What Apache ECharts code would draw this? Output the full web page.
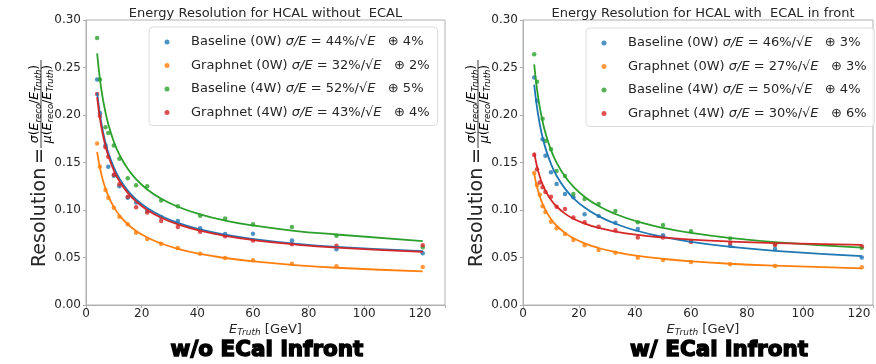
<!DOCTYPE html>
<html>
<head>
<meta charset="utf-8">
<script src="https://cdn.jsdelivr.net/npm/echarts@6/dist/echarts.min.js"></script>
<style>
  html, body { margin: 0; padding: 0; background: #fff; }
  #chart { width: 876px; height: 364px; }
</style>
</head>
<body>
<div id="chart"></div>
<script>
// beam energies [GeV]
const energies = [4, 5, 6, 7, 8, 10, 12, 15, 18, 22, 27, 33, 41, 50, 60, 74, 90, 121];

// measured resolution, HCAL without ECAL
const baseline0wNoEcal = [0.2375, 0.202, null, 0.168, 0.1456, 0.136, 0.125, 0.113, 0.108, 0.099, 0.0926, 0.0884, 0.0807, 0.0747, 0.075, 0.068, 0.0586, 0.0544];
const graphnet0wNoEcal = [0.170, 0.1456, null, 0.121, 0.113, 0.1025, 0.093, 0.085, 0.076, 0.0695, 0.0645, 0.060, 0.054, 0.0495, 0.047, 0.0435, 0.0407, 0.040];
const baseline4wNoEcal = [0.281, 0.2375, null, 0.187, 0.181, 0.168, 0.154, 0.1333, 0.126, 0.125, 0.110, 0.104, 0.094, 0.091, 0.085, 0.082, 0.073, 0.0607];
const graphnet4wNoEcal = [0.222, 0.199, null, 0.166, 0.156, 0.137, 0.127, 0.114, 0.103, 0.0975, 0.0884, 0.082, 0.077, 0.0723, 0.068, 0.064, 0.0625, 0.0628];

// measured resolution, HCAL with ECAL in front
const baseline0wEcal = [0.2396, 0.215, null, 0.1744, 0.157, 0.1397, 0.1274, 0.1168, 0.1133, 0.0954, 0.0937, 0.0866, 0.080, 0.0733, 0.0674, 0.0624, 0.059, 0.050];
const graphnet0wEcal = [0.139, 0.126, 0.116, 0.104, 0.098, 0.0877, 0.0807, 0.0747, 0.0684, 0.0628, 0.0579, 0.055, 0.0498, 0.0474, 0.0453, 0.0428, 0.041, 0.0397];
const baseline4wEcal = [0.264, 0.235, null, 0.196, 0.1726, 0.164, 0.141, 0.1358, 0.1168, 0.1116, 0.1063, 0.099, 0.087, 0.0842, 0.0776, 0.070, 0.0639, 0.0603];
const graphnet4wEcal = [0.158, 0.143, 0.129, 0.124, 0.119, 0.114, 0.1035, 0.101, 0.092, 0.087, 0.0824, 0.0786, 0.071, 0.071, 0.0663, 0.0653, 0.0632, 0.0618];

// fitted curves (same energies)
const fitBaseline0wNoEcal = [0.2236, 0.2008, 0.1840, 0.1710, 0.1606, 0.1448, 0.1332, 0.1204, 0.1112, 0.1020, 0.0937, 0.0864, 0.0795, 0.0740, 0.0695, 0.0649, 0.0612, 0.0566];
const fitGraphnet0wNoEcal = [0.1612, 0.1445, 0.1322, 0.1226, 0.1149, 0.1032, 0.0945, 0.0850, 0.0780, 0.0711, 0.0648, 0.0592, 0.0538, 0.0495, 0.0459, 0.0422, 0.0392, 0.0355];
const fitBaseline4wNoEcal = [0.2648, 0.2379, 0.2181, 0.2028, 0.1905, 0.1719, 0.1582, 0.1433, 0.1324, 0.1216, 0.1119, 0.1034, 0.0954, 0.0889, 0.0837, 0.0784, 0.0742, 0.0672];
const fitGraphnet4wNoEcal = [0.2187, 0.1964, 0.1800, 0.1674, 0.1572, 0.1417, 0.1304, 0.1180, 0.1090, 0.1000, 0.0919, 0.0849, 0.0782, 0.0728, 0.0684, 0.0640, 0.0604, 0.0559];

const fitBaseline0wEcal = [0.2319, 0.2079, 0.1902, 0.1764, 0.1654, 0.1485, 0.1361, 0.1225, 0.1125, 0.1026, 0.0935, 0.0855, 0.0779, 0.0716, 0.0665, 0.0613, 0.0570, 0.0515];
const fitGraphnet0wEcal = [0.1383, 0.1244, 0.1142, 0.1064, 0.1001, 0.0905, 0.0835, 0.0759, 0.0704, 0.0649, 0.0600, 0.0558, 0.0517, 0.0486, 0.0460, 0.0434, 0.0414, 0.0385];
const fitBaseline4wEcal = [0.2532, 0.2272, 0.2080, 0.1932, 0.1812, 0.1631, 0.1498, 0.1352, 0.1245, 0.1139, 0.1042, 0.0958, 0.0877, 0.0812, 0.0759, 0.0706, 0.0662, 0.0603];
const fitGraphnet4wEcal = [0.1605, 0.1458, 0.1351, 0.1269, 0.1204, 0.1107, 0.1037, 0.0962, 0.0908, 0.0857, 0.0811, 0.0773, 0.0738, 0.0711, 0.0689, 0.0668, 0.0652, 0.0632];

const labels = ['Baseline (0W)', 'Graphnet (0W)', 'Baseline (4W)', 'Graphnet (4W)'];
const stochNoEcal = ['44%', '32%', '52%', '43%'];
const constNoEcal = ['4%', '2%', '5%', '4%'];
const stochEcal = ['46%', '27%', '50%', '30%'];
const constEcal = ['3%', '3%', '4%', '6%'];
const colors = ['#1f77b4', '#ff7f0e', '#2ca02c', '#d62728'];
const yTicks = [0, 0.05, 0.10, 0.15, 0.20, 0.25, 0.30];

const FONT = 'DejaVu Sans';
const TEXT = '#262626';
const SPINE = '#b0b0b0';

const chart = echarts.init(document.getElementById('chart'));

const zip = (ys) => energies.map((e, i) => [e, ys[i]]).filter(p => p[1] != null);
const legendName = (i, stoch, cst) => `${labels[i]} σ/E = ${stoch[i]}/√E   ⊕ ${cst[i]}`;

const panels = [
  {
    grid: { left: 86, top: 20, width: 359, height: 285 },
    xMax: 129,
    points: [baseline0wNoEcal, graphnet0wNoEcal, baseline4wNoEcal, graphnet4wNoEcal],
    fits: [fitBaseline0wNoEcal, fitGraphnet0wNoEcal, fitBaseline4wNoEcal, fitGraphnet4wNoEcal],
    names: labels.map((_, i) => legendName(i, stochNoEcal, constNoEcal)),
    legendPos: { left: 149, top: 27 },
  },
  {
    grid: { left: 523, top: 20, width: 360, height: 285 },
    xMax: 125,
    points: [baseline0wEcal, graphnet0wEcal, baseline4wEcal, graphnet4wEcal],
    fits: [fitBaseline0wEcal, fitGraphnet0wEcal, fitBaseline4wEcal, fitGraphnet4wEcal],
    names: labels.map((_, i) => legendName(i, stochEcal, constEcal)),
    legendPos: { left: 586, top: 28 },
  },
];

const series = [];
panels.forEach((p, k) => {
  p.points.forEach((ys, i) => {
    series.push({
      name: p.names[i],
      type: 'scatter',
      xAxisIndex: k, yAxisIndex: k,
      data: zip(ys),
      symbolSize: 4.5,
      itemStyle: { color: colors[i] },
    });
  });
  p.fits.forEach((ys, i) => {
    series.push({
      name: 'fit ' + p.names[i],
      type: 'line',
      xAxisIndex: k, yAxisIndex: k,
      data: zip(ys),
      smooth: 0.5,
      showSymbol: false,
      lineStyle: { color: colors[i], width: 1.8 },
      itemStyle: { color: colors[i] },
    });
  });
});

// math-ish rich styles for the axis labels
const mathRich = (size, sub) => ({
  m: { fontFamily: FONT, fontSize: size, fontStyle: 'italic', color: TEXT, lineHeight: size + 2 },
  r: { fontFamily: FONT, fontSize: size, color: TEXT, lineHeight: size + 2 },
  s: { fontFamily: FONT, fontSize: sub, fontStyle: 'italic', color: TEXT, lineHeight: sub, padding: [Math.round(size * 0.55), 0, 0, 0] },
});

function yLabel(gx) {
  return {
    type: 'group',
    x: gx, y: 305,
    rotation: Math.PI / 2,
    children: [
      { type: 'text', x: 38, y: 0, style: { text: 'Resolution', font: `19px "${FONT}"`, fill: TEXT, align: 'left', verticalAlign: 'middle' } },
      { type: 'text', x: 149, y: 0, style: { text: '=', font: `19px "${FONT}"`, fill: TEXT, align: 'center', verticalAlign: 'middle' } },
      { type: 'text', x: 201, y: -5, style: { text: '{m|σ}{r|(}{m|E}{s|reco}{r|/}{m|E}{s|Truth}{r|)}', rich: mathRich(12.5, 8.5), align: 'center', verticalAlign: 'middle' } },
      { type: 'line', shape: { x1: 157, y1: 1, x2: 245, y2: 1 }, style: { stroke: TEXT, lineWidth: 0.9 } },
      { type: 'text', x: 201, y: 7.5, style: { text: '{m|μ}{r|(}{m|E}{s|reco}{r|/}{m|E}{s|Truth}{r|)}', rich: mathRich(12.5, 8.5), align: 'center', verticalAlign: 'middle' } },
    ],
  };
}

function centeredText(x, y, text, extra) {
  return { type: 'text', x, y, style: Object.assign({ text, fill: TEXT, align: 'center', verticalAlign: 'middle' }, extra) };
}

const xName = '{m|E}{s|Truth}{r| [GeV]}';
// heavy caption under each panel
const captionFont = {
  font: `bold 21.5px "DejaVu Sans"`,
  fill: '#000', stroke: '#000', lineWidth: 1.4,
};

const option = {
  animation: false,
  backgroundColor: '#fff',
  grid: panels.map(p => Object.assign({ show: true, borderColor: SPINE, borderWidth: 1, backgroundColor: 'transparent' }, p.grid)),
  xAxis: panels.map((p, k) => ({
    type: 'value', gridIndex: k, min: 0, max: p.xMax, interval: 20,
    axisLine: { lineStyle: { color: SPINE } },
    axisTick: { length: 3, lineStyle: { color: SPINE } },
    splitLine: { show: false },
    axisLabel: {
      fontFamily: FONT, fontSize: 12, color: TEXT, margin: 3,
      formatter: v => (v % 20 === 0 ? String(v) : ''),
    },
  })),
  yAxis: panels.map((p, k) => ({
    type: 'value', gridIndex: k, min: yTicks[0], max: yTicks[yTicks.length - 1], interval: 0.05,
    axisLine: { show: true, lineStyle: { color: SPINE } },
    axisTick: { show: true, length: 3, lineStyle: { color: SPINE } },
    splitLine: { show: false },
    axisLabel: { fontFamily: FONT, fontSize: 12, color: TEXT, margin: 5, formatter: v => v.toFixed(2) },
  })),
  legend: panels.map(p => ({
    orient: 'vertical',
    left: p.legendPos.left, top: p.legendPos.top,
    data: p.names.map(n => ({ name: n, icon: 'circle' })),
    itemWidth: 5, itemHeight: 5, itemGap: 7.5,
    padding: [7, 8, 5, 15.5],
    backgroundColor: 'rgba(255,255,255,0.8)',
    borderColor: '#dcdcdc', borderWidth: 1, borderRadius: 4,
    selectedMode: false,
    formatter: n => '    ' + n.replace('σ/E', '{i|σ/E}').replace('√E', '√{i|E}'),
    textStyle: {
      fontFamily: FONT, fontSize: 13, color: TEXT, lineHeight: 16,
      rich: { i: { fontFamily: FONT, fontSize: 13, fontStyle: 'italic', color: TEXT, lineHeight: 16 } },
    },
  })),
  graphic: [
    centeredText(265.5, 13.5, 'Energy Resolution for HCAL without  ECAL', { font: `13px "${FONT}"` }),
    centeredText(703, 13.5, 'Energy Resolution for HCAL with  ECAL in front', { font: `13px "${FONT}"` }),
    centeredText(265.5, 329.5, xName, { rich: mathRich(13, 9) }),
    centeredText(703, 329.5, xName, { rich: mathRich(13, 9) }),
    centeredText(267, 350, 'w/o ECal infront', captionFont),
    centeredText(719, 350, 'w/ ECal infront', captionFont),
    yLabel(40),
    yLabel(477),
  ],
  series,
};

chart.setOption(option);
</script>
</body>
</html>
